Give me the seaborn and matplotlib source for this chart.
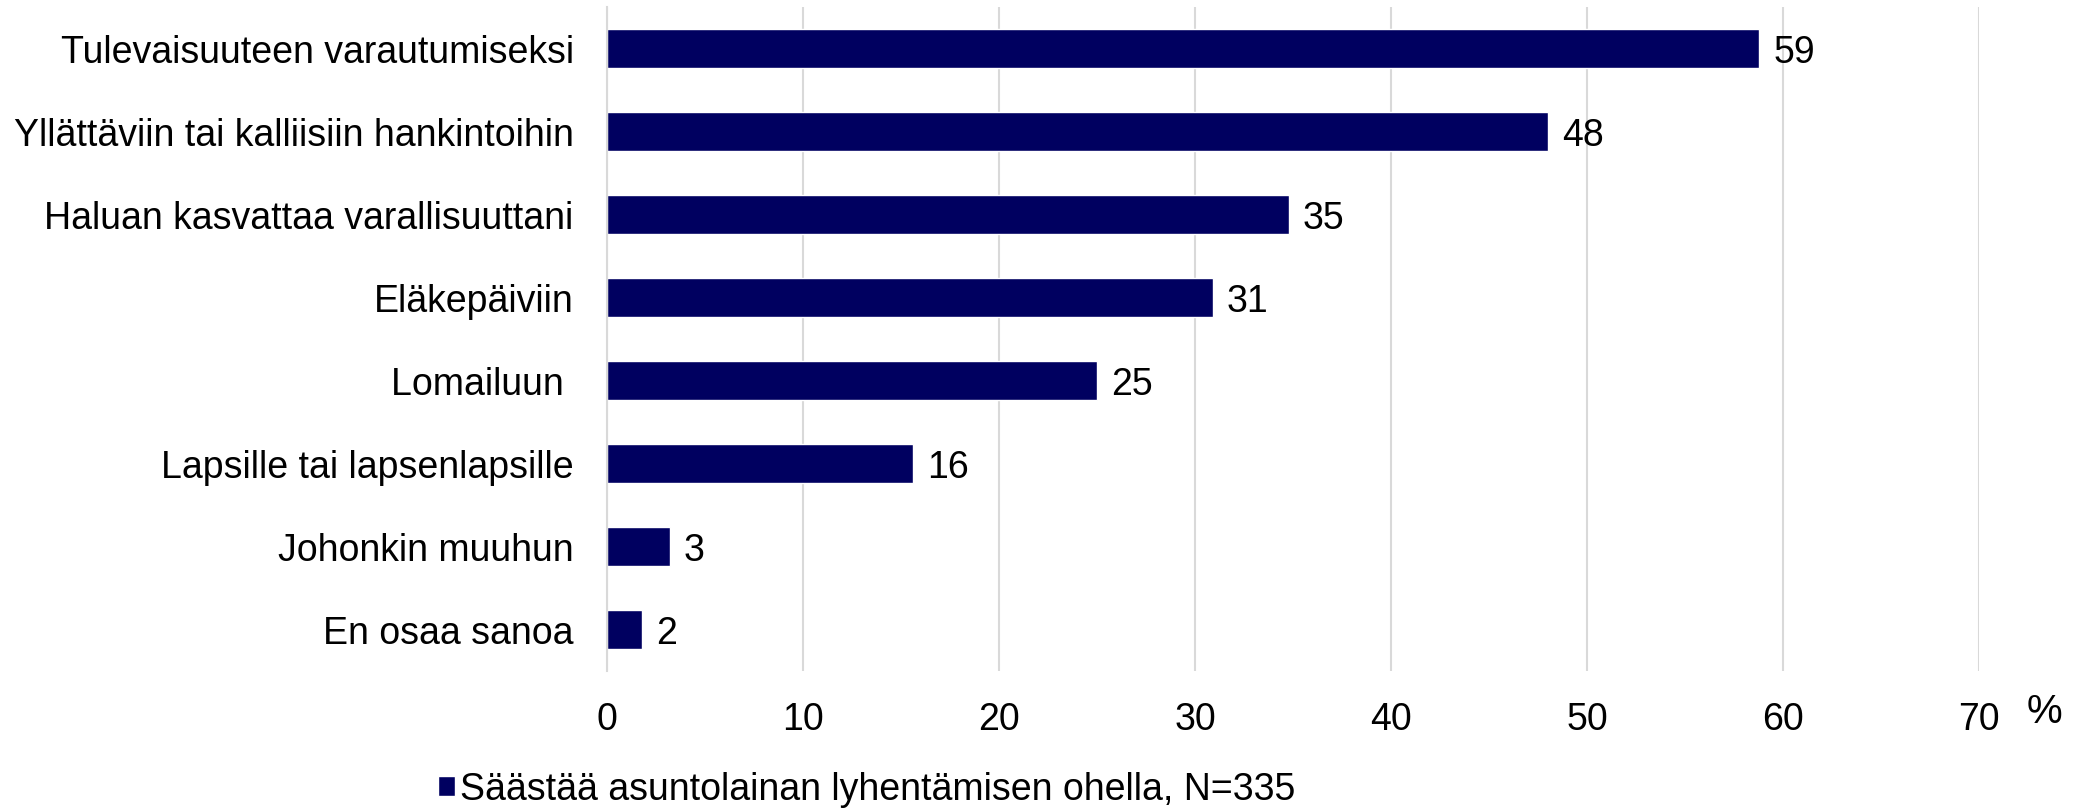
import pandas as pd
import matplotlib.pyplot as plt
import seaborn as sns

# Data
categories = [
    "Tulevaisuuteen varautumiseksi",
    "Yllättäviin tai kalliisiin hankintoihin",
    "Haluan kasvattaa varallisuuttani",
    "Eläkepäiviin",
    "Lomailuun ",
    "Lapsille tai lapsenlapsille",
    "Johonkin muuhun",
    "En osaa sanoa",
]
values = [58.8, 48.0, 34.8, 30.9, 25.0, 15.6, 3.2, 1.8]
series_name = "Säästää asuntolainan lyhentämisen ohella, N=335"
x_ticks = [0, 10, 20, 30, 40, 50, 60, 70]

bar_color = "#000060"
grid_color = "#d9d9d9"

df = pd.DataFrame({"category": categories, "value": values, "series": series_name})

sns.set_theme(style="white")
plt.rcParams["font.family"] = ["Liberation Sans", "DejaVu Sans"]
plt.rcParams["text.color"] = "black"
fs = 27

fig = plt.figure(figsize=(20.93, 8.12), dpi=100)
ax = fig.add_axes([607 / 2093, 1 - 671.5 / 812, (1979 - 607) / 2093, (671.5 - 8) / 812])

sns.barplot(data=df, y="category", x="value", hue="series", palette={series_name: bar_color},
            orient="h", width=0.47, dodge=False, ax=ax, saturation=1)

# Value labels
for c in ax.containers:
    texts = ax.bar_label(c, labels=[f"{v:.0f}" for v in values], padding=10, fontsize=fs, color="black")
    for t in texts:
        t.set_verticalalignment("center_baseline")

ax.set_xlim(0, 70)
ax.set_xticks(x_ticks)
ax.set_xticklabels([str(t) for t in x_ticks])
ax.xaxis.grid(True, color=grid_color, linewidth=1.5)
ax.set_axisbelow(True)
ax.tick_params(axis="both", length=0, labelsize=fs, colors="black")
ax.tick_params(axis="y", pad=24)
ax.tick_params(axis="x", pad=22)
ax.set_xlabel("")
ax.set_ylabel("")
for side in ["top", "right", "bottom"]:
    ax.spines[side].set_visible(False)
ax.spines["left"].set_color(grid_color)
ax.spines["left"].set_linewidth(1.5)

# Percent sign next to the last tick
fig.text(2044 / 2093, 1 - 712 / 812, "%", fontsize=29, ha="center", va="center", color="black")

sns.move_legend(ax, "center left", bbox_to_anchor=(438 / 2093, 1 - 790 / 812),
                bbox_transform=fig.transFigure, frameon=False, title=None,
                fontsize=fs, labelcolor="black", handlelength=0.45, handleheight=0.45,
                handletextpad=0.15, borderpad=0, borderaxespad=0)

fig.savefig("out.png", dpi=100)
